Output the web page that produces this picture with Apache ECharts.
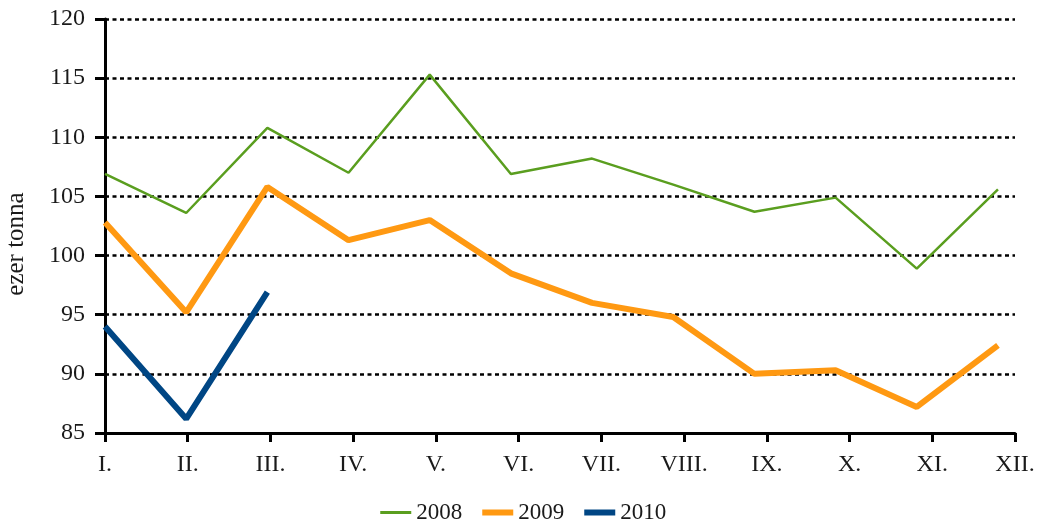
<!DOCTYPE html>
<html>
<head>
<meta charset="utf-8">
<script src="https://cdn.jsdelivr.net/npm/echarts@6/dist/echarts.min.js"></script>
<style>
  html, body { margin: 0; padding: 0; background: #fff; }
  #chart { width: 1045px; height: 527px; }
</style>
</head>
<body>
<div id="chart"></div>
<script>
// havi adatok, ezer tonna
let months = ["I.", "II.", "III.", "IV.", "V.", "VI.", "VII.", "VIII.", "IX.", "X.", "XI.", "XII."];
let data2008 = [106.9, 103.6, 110.8, 107.0, 115.3, 106.9, 108.2, 106.0, 103.7, 104.9, 98.9, 105.6];
let data2009 = [102.8, 95.2, 105.8, 101.3, 103.0, 98.5, 96.0, 94.8, 90.0, 90.3, 87.2, 92.4];
let data2010 = [94.0, 86.2, 96.9];

let font = "'Liberation Serif', 'DejaVu Serif', serif";
let textColor = "#1a1a1a";

// a pontok kicsit rövidebb skálán vannak, mint a tengely beosztása
let pointSpan = 11.21;
let toPairs = arr => arr.map((v, i) => [i, v]);

let chart = echarts.init(document.getElementById("chart"));
let option = {
  animation: false,
  backgroundColor: "#fff",
  textStyle: { fontFamily: font, color: textColor },
  grid: { left: 105, right: 30, top: 19, bottom: 94 },
  legend: {
    top: 496,
    left: "center",
    itemWidth: 31,
    itemHeight: 14,
    itemGap: 17,
    itemStyle: { opacity: 0 }, // csak a vonal látsszon, kör nélkül
    textStyle: { fontFamily: font, fontSize: 23, color: textColor },
    data: [
      { name: "2008", lineStyle: { width: 3 } },
      { name: "2009", lineStyle: { width: 6 } },
      { name: "2010", lineStyle: { width: 6 } }
    ]
  },
  graphic: [{
    type: "text",
    x: 16,
    y: 244,
    rotation: Math.PI / 2,
    style: {
      text: "ezer tonna",
      font: "25px " + font,
      fill: textColor,
      align: "center",
      verticalAlign: "middle"
    }
  }],
  xAxis: [{
    type: "category",
    data: months,
    boundaryGap: false,
    axisLine: { lineStyle: { color: "#000", width: 3 } },
    axisTick: { show: true, length: 9, lineStyle: { color: "#000", width: 3 } },
    axisLabel: { margin: 20, fontSize: 24, color: textColor, fontFamily: font },
    splitLine: { show: false }
  }, {
    type: "value",
    show: false,
    min: 0,
    max: pointSpan
  }],
  yAxis: {
    type: "value",
    min: 85,
    max: 120,
    interval: 5,
    axisLine: { show: true, lineStyle: { color: "#000", width: 3 } },
    axisTick: { show: true, length: 10, lineStyle: { color: "#000", width: 3 } },
    axisLabel: { margin: 20, fontSize: 24, color: textColor, fontFamily: font },
    splitLine: { lineStyle: { color: "#000", width: 2.5, type: [4, 3.5] } }
  },
  series: [
    {
      name: "2008", type: "line", xAxisIndex: 1, symbol: "none",
      data: toPairs(data2008),
      itemStyle: { color: "#5a9e1f" },
      lineStyle: { color: "#5a9e1f", width: 2.5 }
    },
    {
      name: "2009", type: "line", xAxisIndex: 1, symbol: "none",
      data: toPairs(data2009),
      itemStyle: { color: "#ff9912" },
      lineStyle: { color: "#ff9912", width: 6 }
    },
    {
      name: "2010", type: "line", xAxisIndex: 1, symbol: "none",
      data: toPairs(data2010),
      itemStyle: { color: "#004684" },
      lineStyle: { color: "#004684", width: 6 }
    }
  ]
};
chart.setOption(option);
</script>
</body>
</html>
